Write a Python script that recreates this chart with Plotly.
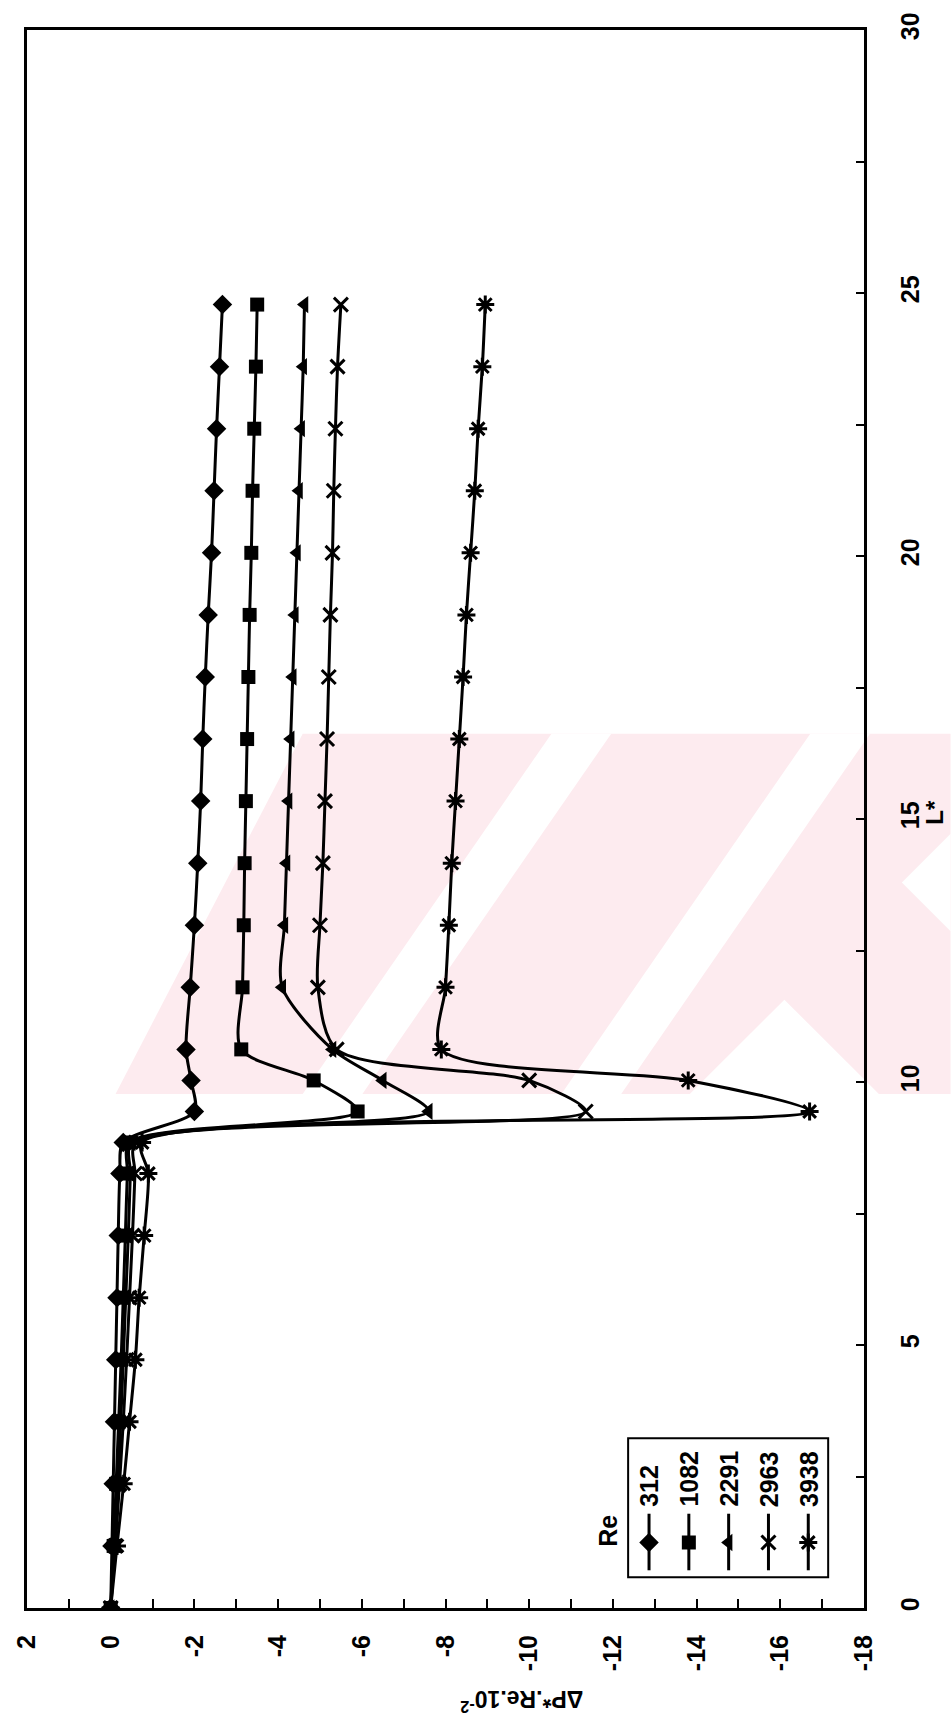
import plotly.graph_objects as go

# ---------------- data ----------------
L_STAR = [0, 1.18, 2.36, 3.54, 4.72, 5.9, 7.08, 8.26, 8.85, 9.44, 10.03, 10.62,
          11.8, 12.98, 14.16, 15.34, 16.52, 17.7, 18.88, 20.06, 21.24, 22.42, 23.6, 24.78]

RE_LABELS = ["312", "1082", "2291", "2963", "3938"]

DP_312 = [0, -0.03, -0.06, -0.09, -0.12, -0.15, -0.18, -0.22, -0.3, -2.0, -1.92, -1.8,
          -1.9, -2.0, -2.08, -2.15, -2.2, -2.26, -2.33, -2.41, -2.47, -2.53, -2.6, -2.67]
DP_1082 = [0, -0.07, -0.13, -0.19, -0.25, -0.3, -0.35, -0.4, -0.45, -5.9, -4.85, -3.12,
           -3.15, -3.18, -3.2, -3.23, -3.26, -3.29, -3.32, -3.36, -3.39, -3.43, -3.47, -3.5]
DP_2291 = [0, -0.09, -0.17, -0.24, -0.3, -0.36, -0.42, -0.47, -0.5, -7.6, -6.5, -5.3,
           -4.1, -4.15, -4.2, -4.25, -4.3, -4.35, -4.4, -4.45, -4.5, -4.55, -4.6, -4.63]
DP_2963 = [0, -0.11, -0.21, -0.3, -0.38, -0.45, -0.52, -0.58, -0.6, -11.35, -10.0, -5.4,
           -4.95, -5.0, -5.07, -5.12, -5.17, -5.21, -5.25, -5.3, -5.33, -5.37, -5.42, -5.5]
DP_3938 = [0, -0.15, -0.31, -0.45, -0.59, -0.68, -0.8, -0.9, -0.75, -16.7, -13.8, -7.9,
           -8.0, -8.08, -8.15, -8.24, -8.33, -8.42, -8.5, -8.6, -8.7, -8.78, -8.88, -8.95]

SERIES = [DP_312, DP_1082, DP_2291, DP_2963, DP_3938]
SYMBOLS = ["diamond", "square", "triangle-left", "x-thin-open", "asterisk-open"]
SIZES = [15, 14, 15, 14, 15]

DP_TICKS = list(range(2, -19, -2))
DP_TICKTEXT = [str(v) for v in DP_TICKS]          # plain hyphen-minus like the scan
L_TICKS = list(range(0, 31, 5))

# ---------------- layout constants (pixels) ----------------
W, H = 951, 1727
FX0, FX1, FY0, FY1 = 23, 864, 18, 1608   # frame of plot area


def px(x):
    return (x - FX0) / (FX1 - FX0)


def py(y):
    return (FY1 - y) / (FY1 - FY0)


def poly(points):
    return "M " + " L ".join(f"{px(x):.4f},{py(y):.4f}" for x, y in points) + " Z"


FONT = dict(family="Liberation Sans, Arial, sans-serif", size=25, color="black", weight="bold")
PINK = "rgb(253,235,239)"

fig = go.Figure()

for name, dp, sym, sz in zip(RE_LABELS, SERIES, SYMBOLS, SIZES):
    open_sym = sym.endswith("open")
    fig.add_trace(go.Scatter(
        x=dp, y=L_STAR, mode="lines+markers", name=name, showlegend=False,
        line=dict(color="black", width=3, shape="spline", smoothing=0.8),
        marker=dict(symbol=sym, size=sz, color="black",
                    line=dict(color="black", width=3 if open_sym else 0)),
        xaxis="x", yaxis="y",
    ))

# ---------------- faint watermark (background decoration) ----------------
shapes = []
WM_TOP, WM_BOT = 727, 1090
shapes.append(dict(type="path", xref="paper", yref="paper", layer="below",
                   path=poly([(112, WM_BOT), (300, WM_TOP), (951, WM_TOP), (951, WM_BOT)]),
                   fillcolor=PINK, line=dict(width=0)))
for bx in (300, 560):
    shapes.append(dict(type="path", xref="paper", yref="paper", layer="below",
                       path=poly([(bx, WM_BOT), (bx + 60, WM_BOT),
                                  (bx + 60 + 250, WM_TOP), (bx + 250, WM_TOP)]),
                       fillcolor="white", line=dict(width=0)))
shapes.append(dict(type="path", xref="paper", yref="paper", layer="below",
                   path=poly([(689, WM_BOT), (784, 995), (879, WM_BOT)]),
                   fillcolor="white", line=dict(width=0)))
shapes.append(dict(type="path", xref="paper", yref="paper", layer="below",
                   path=poly([(951, 828), (902, 877), (951, 926)]),
                   fillcolor="white", line=dict(width=0)))

# ---------------- custom rotated legend ----------------
LEG_X0, LEG_X1, LEG_Y0, LEG_Y1 = 627, 828, 1437, 1577
LEG_COL0, LEG_DCOL = 648, 40
LEG_MARK_Y, LEG_LINE_Y0, LEG_LINE_Y1, LEG_TEXT_BOTTOM = 1542, 1513, 1570, 1508

shapes.append(dict(type="rect", xref="paper", yref="paper",
                   x0=px(LEG_X0), x1=px(LEG_X1), y0=py(LEG_Y1), y1=py(LEG_Y0),
                   line=dict(color="black", width=2), fillcolor="white", layer="below"))
annotations = []
for i, (name, sym, sz) in enumerate(zip(RE_LABELS, SYMBOLS, SIZES)):
    cx = LEG_COL0 + i * LEG_DCOL
    open_sym = sym.endswith("open")
    fig.add_trace(go.Scatter(
        x=[cx, cx], y=[LEG_LINE_Y0, LEG_LINE_Y1], mode="lines", showlegend=False,
        hoverinfo="skip", line=dict(color="black", width=3), xaxis="x2", yaxis="y2"))
    fig.add_trace(go.Scatter(
        x=[cx], y=[LEG_MARK_Y], mode="markers", showlegend=False, hoverinfo="skip",
        marker=dict(symbol=sym, size=sz, color="black",
                    line=dict(color="black", width=3 if open_sym else 0)),
        xaxis="x2", yaxis="y2"))
    annotations.append(dict(
        text=name, xref="paper", yref="paper", x=px(cx), y=py(LEG_TEXT_BOTTOM),
        xanchor="center", yanchor="bottom", textangle=-90, showarrow=False, font=FONT))

annotations.append(dict(text="Re", xref="paper", yref="paper", x=px(606), y=py(1530),
                        xanchor="center", yanchor="middle", textangle=-90, showarrow=False,
                        font=FONT))
annotations.append(dict(text="ΔP*.Re.10<sup>-2</sup>", xref="paper", yref="paper",
                        x=px(520), y=py(1701), xanchor="center", yanchor="middle",
                        textangle=180, showarrow=False, font=dict(FONT, size=23)))
annotations.append(dict(text="L*", xref="paper", yref="paper", x=px(934), y=py(806),
                        xanchor="center", yanchor="middle", textangle=-90, showarrow=False,
                        font=dict(FONT, size=24)))

fig.update_layout(
    width=W, height=H,
    margin=dict(l=FX0, r=W - FX1, t=FY0, b=H - FY1, pad=0),
    paper_bgcolor="white", plot_bgcolor="rgba(0,0,0,0)",
    font=FONT,
    showlegend=False,
    xaxis=dict(range=[2, -18], tickvals=DP_TICKS, ticktext=DP_TICKTEXT, tickangle=-90,
               ticks="inside", ticklen=9, tickwidth=2, tickcolor="black", showgrid=False,
               zeroline=False, showline=True, linecolor="black", linewidth=3, mirror=True,
               ticklabelstandoff=14, tickfont=FONT,
               minor=dict(dtick=1, ticks="inside", ticklen=9, tickwidth=2, tickcolor="black")),
    yaxis=dict(range=[0, 30], tickvals=L_TICKS, side="right", tickangle=-90, ticks="inside",
               ticklen=8, tickwidth=2, tickcolor="black", showgrid=False, zeroline=False,
               showline=True, linecolor="black", linewidth=3, mirror=True,
               ticklabelstandoff=22, tickfont=FONT,
               minor=dict(dtick=2.5, ticks="inside", ticklen=8, tickwidth=2, tickcolor="black")),
    xaxis2=dict(range=[FX0, FX1], overlaying="x", anchor="y2", visible=False),
    yaxis2=dict(range=[FY1, FY0], overlaying="y", anchor="x2", visible=False),
    shapes=shapes,
    annotations=annotations,
)

fig.write_html(
    "out.html",
    config={"displayModeBar": False},
    post_script="document.body.style.margin='0';document.body.style.padding='0';"
                "document.documentElement.style.overflow='hidden';",
)
